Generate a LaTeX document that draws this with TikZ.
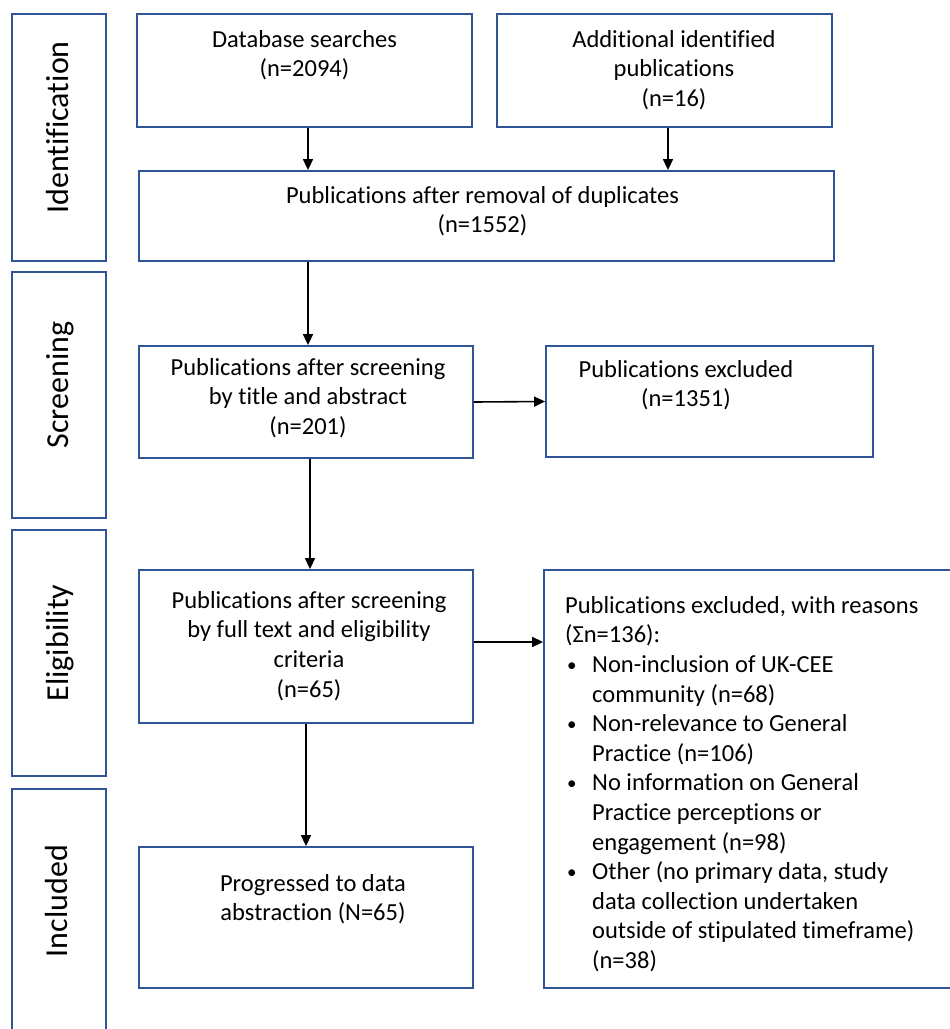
\documentclass[tikz,border=0pt]{standalone}
\usepackage{fontspec}
\setmainfont{Carlito}[Ligatures=NoCommon]
\usetikzlibrary{arrows.meta}
\definecolor{boxblue}{RGB}{47,85,151}
\newcommand\mybul{\makebox[27pt][l]{\hspace*{2pt}\raisebox{1.3pt}{\fontsize{19}{19}\selectfont •}}}
\begin{document}
\begin{tikzpicture}[x=1pt,y=-1pt,
  box/.style={draw=boxblue, line width=1.8pt, inner sep=0pt, fill=white},
  arr/.style={-{Triangle[length=11pt,width=10pt]}, line width=1.6pt, draw=black},
  txt/.style={font=\fontsize{24.5}{29.6}\selectfont, align=center, inner sep=0pt, anchor=north},
  ltxt/.style={font=\fontsize{24.5}{29.6}\selectfont, align=left, inner sep=0pt, anchor=north west},
  side/.style={font=\fontsize{32}{38}\selectfont, rotate=90, anchor=base, inner sep=0pt}]
\useasboundingbox (0,0) rectangle (950,1029);
\clip (0,0) rectangle (950,1029);
\fill[white] (0,0) rectangle (950,1029);

% side bars
\node[box, minimum width=94pt, minimum height=247pt] (sid1) at (59,137.5) {};
\node[box, minimum width=94pt, minimum height=246pt] (sid2) at (59,395) {};
\node[box, minimum width=94pt, minimum height=246pt] (sid3) at (59,653) {};
\node[box, minimum width=94pt, minimum height=251pt] (sid4) at (59,914.5) {};
\node[side] (sidt1) at (68,127.5) {Identification};
\node[side] (sidt2) at (68,385) {Screening};
\node[side] (sidt3) at (68,643) {Eligibility};
\node[side] (sidt4) at (67,901) {Included};

% boxes
\node[box, minimum width=335pt, minimum height=113pt] (db) at (304.5,70.5) {};
\node[box, minimum width=335pt, minimum height=113pt] (add) at (664.5,70.5) {};
\node[box, minimum width=695pt, minimum height=90pt] (rem) at (486.5,216) {};
\node[box, minimum width=334pt, minimum height=112pt] (scr) at (306,402) {};
\node[box, minimum width=327pt, minimum height=111pt] (exc) at (709.5,401.5) {};
\node[box, minimum width=334pt, minimum height=153pt] (full) at (306,646.5) {};
\node[box, minimum width=416pt, minimum height=418pt] (rsn) at (752,779) {};
\node[box, minimum width=334pt, minimum height=141pt] (prog) at (306,917.5) {};

% texts
\node[txt] (dbt) at (304.5,27) {\rule{0pt}{20pt}Database searches\\(n=2094)};
\node[txt] (addt) at (674,27) {\rule{0pt}{20pt}Additional identified\\publications\\(n=16)};
\node[txt] (remt) at (482.5,183) {\rule{0pt}{20pt}Publications after removal of duplicates\\(n=1552)};
\node[txt] (scrt) at (308,355) {\rule{0pt}{20pt}Publications after screening\\by title and abstract\\(n=201)};
\node[txt] (exct) at (686,357) {\rule{0pt}{20pt}Publications excluded\\(n=1351)};
\node[txt] (fullt) at (309,588) {\rule{0pt}{20pt}Publications after screening\\by full text and eligibility\\criteria\\(n=65)};
\node[txt] (progt) at (313,871) {\rule{0pt}{20pt}Progressed to data\\abstraction (N=65)};
\node[ltxt] (rsnt) at (565,593) {\rule{0pt}{20pt}Publications excluded, with reasons\\
(Σn=136):\\
\mybul Non-inclusion of UK-CEE\\
\hspace*{27pt}community (n=68)\\
\mybul Non-relevance to General\\
\hspace*{27pt}Practice (n=106)\\
\mybul No information on General\\
\hspace*{27pt}Practice perceptions or\\
\hspace*{27pt}engagement (n=98)\\
\mybul Other (no primary data, study\\
\hspace*{27pt}data collection undertaken\\
\hspace*{27pt}outside of stipulated timeframe)\\
\hspace*{27pt}(n=38)};

% arrows
\draw[arr] ([xshift=3.5pt]db.south) -- ([xshift=3.5pt]db.south |- rem.north);
\draw[arr] ([xshift=3.5pt]add.south) -- ([xshift=3.5pt]add.south |- rem.north);
\draw[arr] ([xshift=2pt]scr.north |- rem.south) -- ([xshift=2pt]scr.north);
\draw[arr] ([xshift=4pt]scr.south) -- ([xshift=4pt]full.north);
\draw[arr] (scr.east) -- (exc.west);
\draw[arr] ([yshift=4.5pt]full.east) -- ([yshift=4.5pt]full.east -| rsn.west);
\draw[arr] (full.south) -- (prog.north);
\end{tikzpicture}
\end{document}
